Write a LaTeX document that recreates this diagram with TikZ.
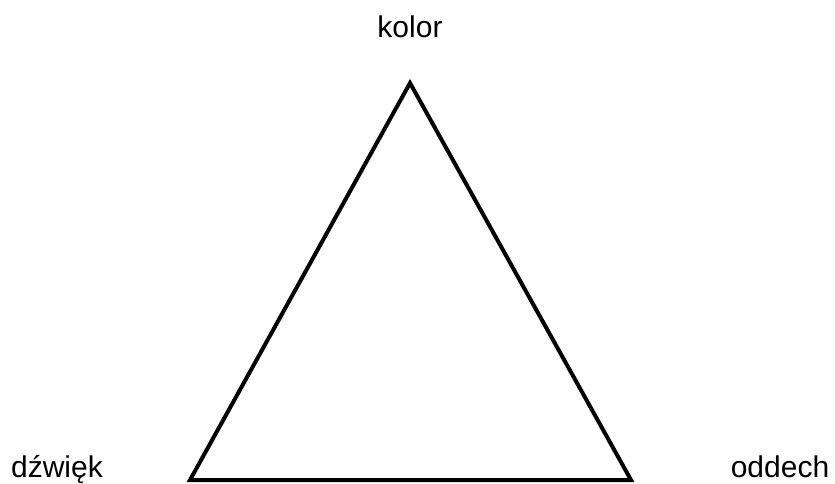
\documentclass[tikz,border=0pt]{standalone}
\usepackage{fontspec}
\setmainfont{Liberation Sans}
\begin{document}
\begin{tikzpicture}[x=1pt,y=-1pt,
  lbl/.style={anchor=base,inner sep=0pt,font=\fontsize{30}{36}\selectfont},
  tri/.style={line width=4pt,line join=miter}]
\useasboundingbox (0,0) rectangle (835,483);
\coordinate (top) at (410,83);
\coordinate (bl) at (190,480);
\coordinate (br) at (631,480);
\draw[tri] (top) -- (br) -- (bl) -- cycle;
\node[lbl] (kolor) at (410,37) {kolor};
\node[lbl] (dzwiek) at (57,477) {dźwięk};
\node[lbl] (oddech) at (780,477) {oddech};
\end{tikzpicture}
\end{document}
